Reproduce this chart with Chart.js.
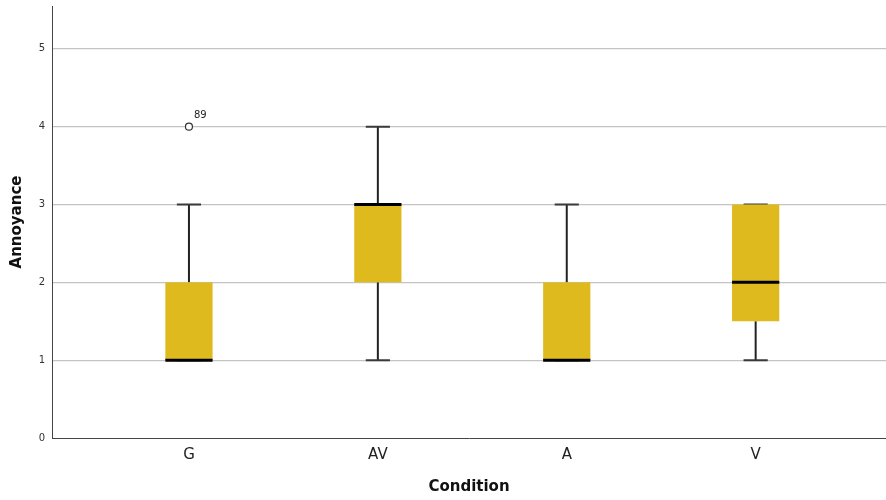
<!DOCTYPE html>
<html>
<head>
<meta charset="utf-8">
<script src="https://cdn.jsdelivr.net/npm/chart.js@4/dist/chart.umd.min.js"></script>
<style>
  html, body { margin: 0; padding: 0; background: #ffffff; }
  #wrap { width: 886px; height: 500px; }
</style>
</head>
<body>
<div id="wrap"><canvas id="c" width="886" height="500"></canvas></div>
<script>
// Annoyance ratings per condition: five-number summaries
const categories = ['G', 'AV', 'A', 'V'];
const whiskerLow  = [1, 1, 1, 1];
const quartile1   = [1, 2, 1, 1.5];
const medians     = [1, 3, 1, 2];
const quartile3   = [2, 3, 2, 3];
const whiskerHigh = [3, 4, 3, 3];
// Outliers: category index, value, case label
const outlierCat   = [0];
const outlierValue = [4];
const outlierLabel = ['89'];
const yTicks = [0, 1, 2, 3, 4, 5];

const FONT = '"DejaVu Sans", "Liberation Sans", sans-serif';
const BOX_FILL = '#dfba1f';
const BOX_HALF = 0.125;   // half box width, in category units
const CAP_HALF = 0.064;   // half whisker-cap width, in category units

// Draws boxes, whiskers and medians using the chart's own scales
const boxPlot = {
  id: 'boxPlot',
  beforeDatasetsDraw(chart) {
    const { ctx } = chart;
    const xs = chart.scales.x, ys = chart.scales.y;
    ctx.save();
    categories.forEach((cat, i) => {
      const xc = xs.getPixelForValue(i + 1);
      const xl = xs.getPixelForValue(i + 1 - BOX_HALF);
      const xr = xs.getPixelForValue(i + 1 + BOX_HALF);
      const cl = xs.getPixelForValue(i + 1 - CAP_HALF);
      const cr = xs.getPixelForValue(i + 1 + CAP_HALF);
      const yLo = ys.getPixelForValue(whiskerLow[i]);
      const yQ1 = ys.getPixelForValue(quartile1[i]);
      const yMd = ys.getPixelForValue(medians[i]);
      const yQ3 = ys.getPixelForValue(quartile3[i]);
      const yHi = ys.getPixelForValue(whiskerHigh[i]);

      // whiskers and caps
      ctx.strokeStyle = '#222222';
      ctx.lineWidth = 2;
      ctx.beginPath();
      if (whiskerLow[i] < quartile1[i]) {
        ctx.moveTo(xc, yQ1); ctx.lineTo(xc, yLo);
      }
      if (whiskerHigh[i] > quartile3[i]) {
        ctx.moveTo(xc, yQ3); ctx.lineTo(xc, yHi);
      }
      ctx.stroke();
      ctx.strokeStyle = '#3a3a3a';
      ctx.beginPath();
      ctx.moveTo(cl, yLo); ctx.lineTo(cr, yLo);
      ctx.moveTo(cl, yHi); ctx.lineTo(cr, yHi);
      ctx.stroke();

      // box
      ctx.fillStyle = BOX_FILL;
      ctx.fillRect(xl, yQ3, xr - xl, yQ1 - yQ3);

      // median
      ctx.strokeStyle = '#000000';
      ctx.lineWidth = 3;
      ctx.beginPath();
      ctx.moveTo(xl, yMd); ctx.lineTo(xr, yMd);
      ctx.stroke();
    });

    // outlier case labels
    ctx.fillStyle = '#222222';
    ctx.font = '10px ' + FONT;
    ctx.textAlign = 'left';
    ctx.textBaseline = 'middle';
    outlierCat.forEach((ci, k) => {
      const px = xs.getPixelForValue(ci + 1);
      const py = ys.getPixelForValue(outlierValue[k]);
      ctx.fillText(outlierLabel[k], px + 5, py - 11);
    });
    ctx.restore();
  }
};

new Chart(document.getElementById('c'), {
  type: 'scatter',
  data: {
    datasets: [{
      label: 'Outliers',
      data: outlierCat.map((ci, k) => ({ x: ci + 1, y: outlierValue[k] })),
      pointStyle: 'circle',
      pointRadius: 3.5,
      pointBorderWidth: 1.2,
      pointBorderColor: '#333333',
      pointBackgroundColor: '#ffffff'
    }]
  },
  options: {
    responsive: false,
    animation: false,
    events: [],
    layout: { padding: 0, autoPadding: false },
    plugins: {
      legend: { display: false },
      tooltip: { enabled: false }
    },
    scales: {
      x: {
        type: 'linear',
        min: 0.275,
        max: 4.69,
        afterFit: s => { s.height = 62; s.paddingLeft = 0; s.paddingRight = 0; },
        afterBuildTicks: s => { s.ticks = categories.map((c, i) => ({ value: i + 1 })); },
        grid: { display: false, drawTicks: false },
        border: { display: true, color: '#444444', width: 1 },
        ticks: {
          padding: 8,
          color: '#222222',
          font: { family: FONT, size: 15 },
          callback: v => categories[v - 1]
        },
        title: {
          display: true,
          text: 'Condition',
          color: '#111111',
          font: { family: FONT, size: 15, weight: 'bold' },
          padding: { top: 0, bottom: 4 }
        }
      },
      y: {
        type: 'linear',
        min: 0,
        max: 5.55,
        afterFit: s => { s.width = 52; s.paddingTop = 6; s.paddingBottom = 0; },
        afterBuildTicks: s => { s.ticks = yTicks.map(v => ({ value: v })); },
        grid: {
          drawTicks: false,
          color: ctx => ctx.tick && ctx.tick.value === 0 ? 'rgba(0,0,0,0)' : '#c4c4c4',
          lineWidth: 1.2
        },
        border: { display: true, color: '#444444', width: 1 },
        ticks: {
          padding: 7,
          color: '#333333',
          font: { family: FONT, size: 10 }
        },
        title: {
          display: true,
          text: 'Annoyance',
          color: '#111111',
          font: { family: FONT, size: 15, weight: 'bold' },
          padding: { top: 8, bottom: 0 }
        }
      }
    }
  },
  plugins: [boxPlot]
});
</script>
</body>
</html>
